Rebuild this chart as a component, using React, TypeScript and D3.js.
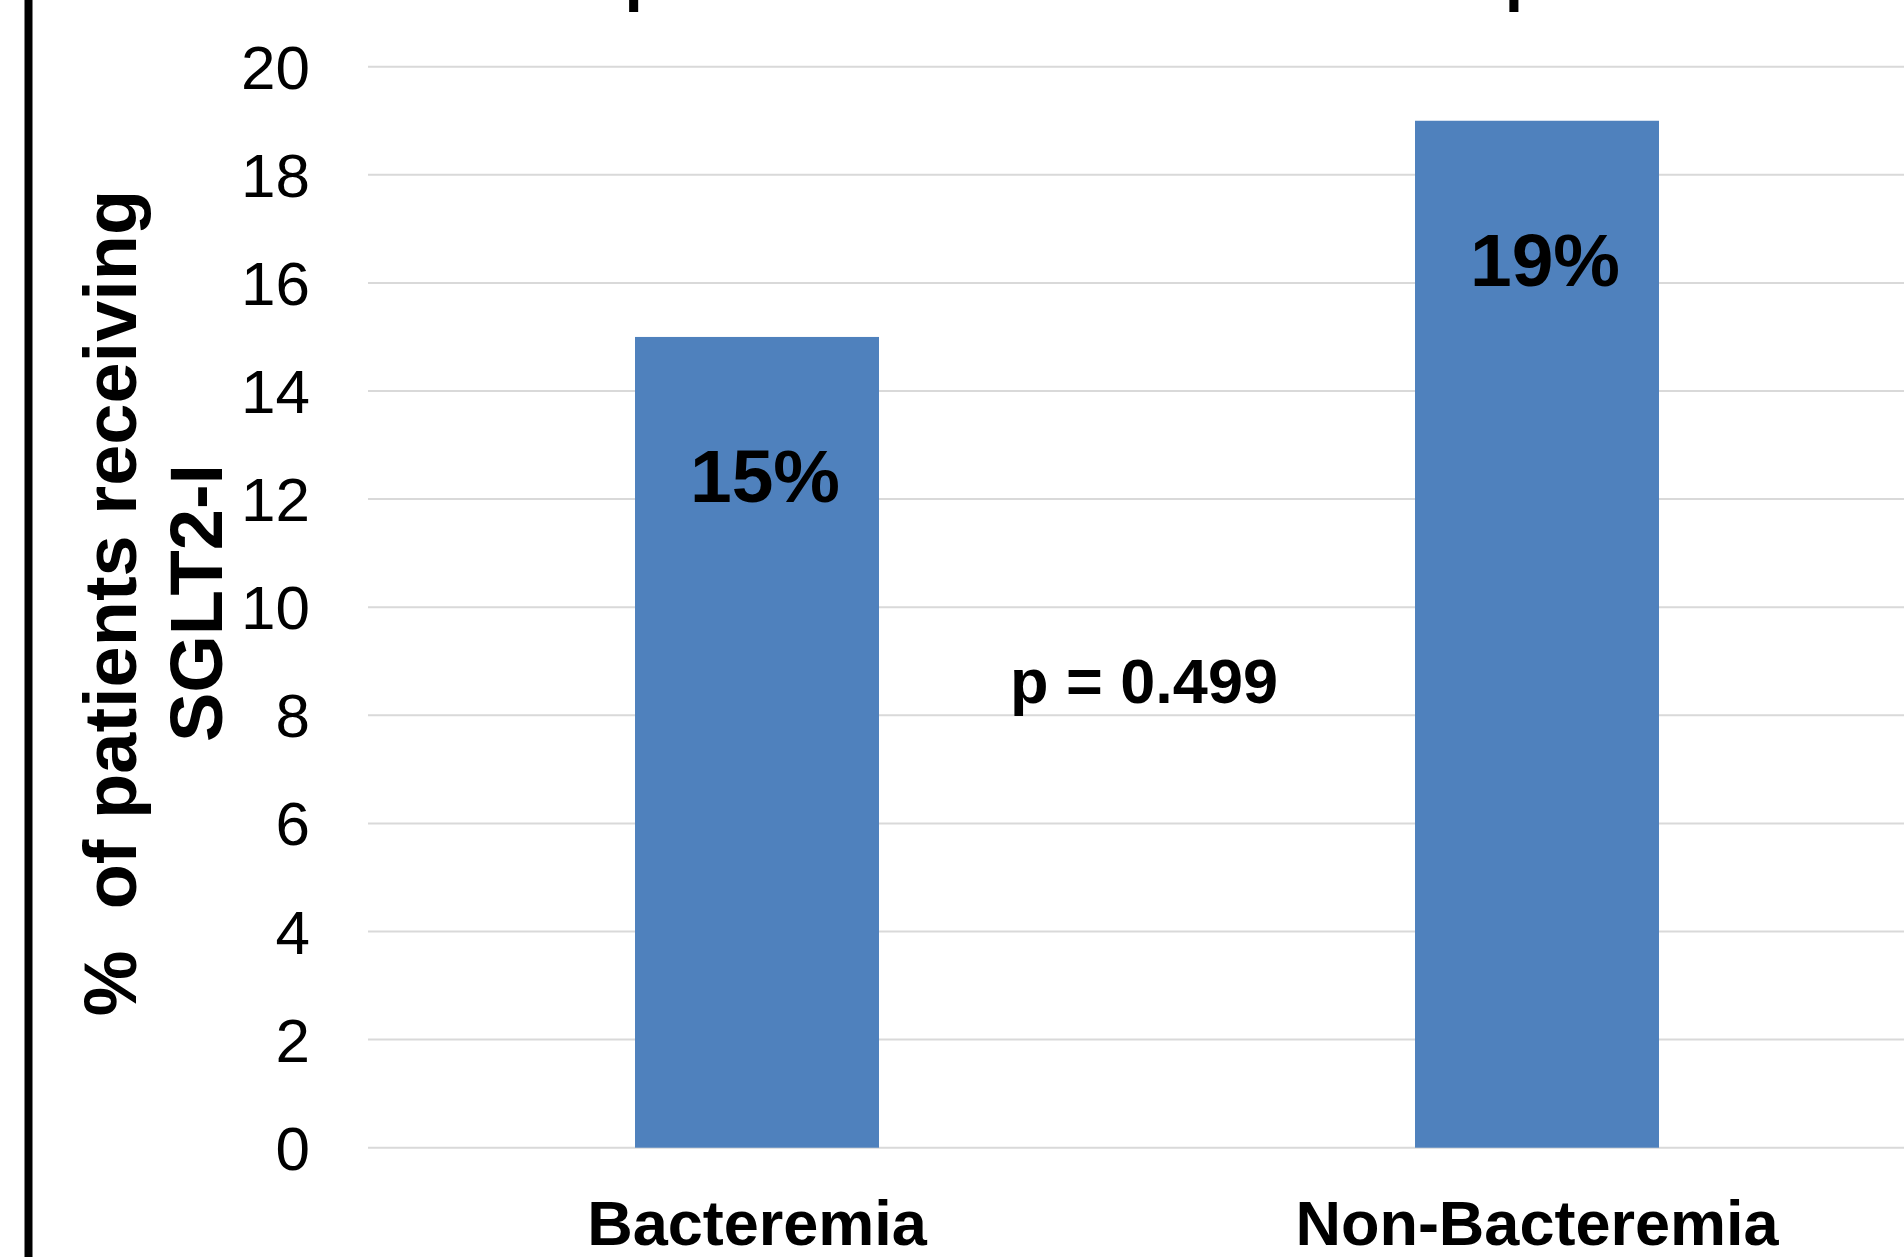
import React from 'react';
import * as d3 from 'd3';

const categories: string[] = ['Bacteremia', 'Non-Bacteremia'];
const values: number[] = [15, 19];
const valueLabels: string[] = ['15%', '19%'];
const yTicks: number[] = [0, 2, 4, 6, 8, 10, 12, 14, 16, 18, 20];
const yTitleLines: string[] = ['%  of patients receiving', 'SGLT2-I'];
const pValueText = 'p = 0.499';
const titleText = 'SGLT2-I use: patients with bacteremia vs patients without';

const W = 1904;
const H = 1257;
const FONT = "Arial, 'Liberation Sans', Helvetica, sans-serif";

export default function App() {
  const y = d3.scaleLinear().domain([0, 20]).range([1147.7, 66.7]);
  const x = d3.scaleBand<string>().domain(categories).range([367, 1927]).paddingInner(0).paddingOuter(0);
  const bw = x.bandwidth();
  const barW = bw * 0.3128;
  const gridX0 = 368;
  const mid = ((x(categories[0]) as number) + (x(categories[1]) as number) + bw) / 2;

  return (
    <svg width={W} height={H} style={{ position: 'absolute', left: 0, top: 0, background: '#fff' }} fontFamily={FONT}>
      <rect x={0} y={0} width={W} height={H} fill="#fff" />
      {/* cut-off title */}
      <text x={204} y={-2} fontSize={66} fontWeight="bold" fill="#000" style={{ whiteSpace: 'pre' }}>{titleText}</text>
      {/* slide border */}
      <line x1={28.5} x2={28.5} y1={0} y2={H} stroke="#000" strokeWidth={8} />
      {/* gridlines */}
      {yTicks.map((t) => (
        <line key={'g' + t} x1={gridX0} x2={W} y1={y(t)} y2={y(t)} stroke="#d9d9d9" strokeWidth={2} />
      ))}
      {/* tick labels */}
      {yTicks.map((t) => (
        <text key={'t' + t} x={310} y={y(t)} dy="0.355em" textAnchor="end" fontSize={62} fill="#000">{t}</text>
      ))}
      {/* bars */}
      {categories.map((c, i) => {
        const bx = (x(c) as number) + (bw - barW) / 2;
        return (
          <g key={c}>
            <rect x={bx} y={y(values[i])} width={barW} height={y(0) - y(values[i])} fill="#4F81BD" />
            <text x={bx + barW / 2 + 8} y={y(values[i]) + 165} textAnchor="middle" fontSize={75} fontWeight="bold" fill="#000">{valueLabels[i]}</text>
            <text x={(x(c) as number) + bw / 2} y={1245} textAnchor="middle" fontSize={63} fontWeight="bold" fill="#000">{c}</text>
          </g>
        );
      })}
      {/* p value */}
      <text x={mid - 3} y={703} textAnchor="middle" fontSize={63} fontWeight="bold" fill="#000" style={{ whiteSpace: 'pre' }}>{pValueText}</text>
      {/* y axis title */}
      <text transform={`translate(136,603) rotate(-90)`} textAnchor="middle" fontSize={74} fontWeight="bold" fill="#000" style={{ whiteSpace: 'pre' }}>{yTitleLines[0]}</text>
      <text transform={`translate(222,603) rotate(-90)`} textAnchor="middle" fontSize={74} fontWeight="bold" fill="#000" style={{ whiteSpace: 'pre' }}>{yTitleLines[1]}</text>
    </svg>
  );
}
